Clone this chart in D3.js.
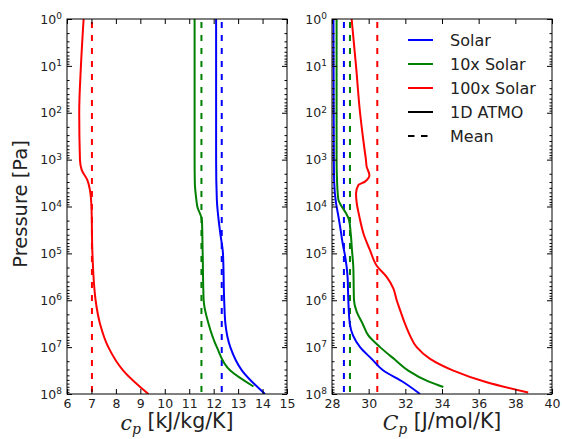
<!DOCTYPE html>
<html>
<head>
<meta charset="utf-8">
<script src="https://cdn.jsdelivr.net/npm/d3@7"></script>
<style>
  body { margin: 0; background: #fff; }
  svg { font-family: "DejaVu Sans", sans-serif; }
</style>
</head>
<body>
<div id="chart"></div>
<script>
// pressure exponents (log10 Pa) and heat capacities
var pExp = [0, 1, 2, 3, 4, 5, 6, 7, 8];

// left panel: c_p [kJ/kg/K]
var cpSolarP  = [0, 1, 2, 3, 3.85, 4.57, 5, 6, 6.5, 7, 7.5, 8];
var cpSolar   = [12.1, 12.1, 12.1, 12.1, 12.13, 12.27, 12.38, 12.43, 12.48, 12.68, 13.16, 14.1];
var cp10xP    = [0, 1, 2, 3, 3.5, 3.85, 4.0, 4.29, 5, 6, 6.5, 7, 7.5, 7.84];
var cp10x     = [11.22, 11.22, 11.22, 11.22, 11.23, 11.29, 11.33, 11.52, 11.55, 11.59, 11.79, 12.13, 12.68, 13.63];
var cp100xP   = [0, 1, 2, 3, 3.22, 3.43, 3.65, 4, 5, 6, 6.5, 7, 7.5, 8];
var cp100x    = [6.68, 6.57, 6.5, 6.53, 6.6, 6.83, 6.94, 7.0, 7.04, 7.17, 7.35, 7.69, 8.3, 9.33];
var cpMean    = [12.33, 11.5, 7.02];

// right panel: C_p [J/mol/K]
var CpSolarP  = [0, 3, 3.5, 3.93, 4.21, 4.5, 4.78, 5.07, 5.5, 6, 6.5, 7, 7.25, 7.5, 7.75, 8];
var CpSolar   = [28.08, 28.1, 28.12, 28.22, 28.35, 28.47, 28.58, 28.72, 28.85, 28.89, 28.97, 29.53, 30.16, 30.8, 31.9, 32.8];
var Cp10xP    = [0, 3, 3.5, 3.86, 4.0, 4.14, 4.29, 4.57, 4.93, 5.28, 6, 6.25, 6.5, 6.75, 7, 7.27, 7.5, 7.73, 7.85];
var Cp10x     = [28.25, 28.25, 28.28, 28.35, 28.53, 28.76, 28.93, 29.02, 29.09, 29.16, 29.2, 29.35, 29.67, 29.98, 30.62, 31.44, 32.16, 33.25, 34.07];
var Cp100xP   = [0, 1, 2, 2.5, 2.8, 3, 3.15, 3.33, 3.47, 3.54, 3.72, 3.93, 4.21, 4.57, 4.93, 5.28, 5.5, 5.75, 6, 6.25, 6.5, 6.75, 7, 7.25, 7.5, 7.75, 7.97];
var Cp100x    = [29.07, 29.31, 29.53, 29.68, 29.78, 29.85, 29.89, 30.04, 29.8, 29.44, 29.31, 29.35, 29.49, 29.71, 30.07, 30.47, 30.98, 31.35, 31.53, 31.75, 31.98, 32.25, 32.62, 33.35, 34.62, 36.44, 38.7];
var CpMean    = [28.65, 28.98, 30.47];

var seriesNames = ["Solar", "10x Solar", "100x Solar"];
var seriesColors = ["#0000ff", "#008000", "#ff0000"];
var legendNames = ["Solar", "10x Solar", "100x Solar", "1D ATMO", "Mean"];

var leftTicks = [6, 7, 8, 9, 10, 11, 12, 13, 14, 15];
var rightTicks = [28, 30, 32, 34, 36, 38, 40];

var W = 562, H = 439;
var top_ = 19, bottom_ = 394;

var svg = d3.select("#chart").append("svg")
    .attr("width", W).attr("height", H);

function zip(ps, vs) {
    return ps.map(function (p, i) { return { p: Math.pow(10, p), v: vs[i] }; });
}

function panel(x0, x1, domain, ticks, curves, means, id) {
    var x = d3.scaleLinear().domain(domain).range([x0, x1]);
    var y = d3.scaleLog().domain([1, 1e8]).range([top_, bottom_]);

    var g = svg.append("g");

    g.append("clipPath").attr("id", id)
        .append("rect").attr("x", x0).attr("y", top_)
        .attr("width", x1 - x0).attr("height", bottom_ - top_);

    var plot = g.append("g").attr("clip-path", "url(#" + id + ")");

    // mean lines
    plot.selectAll(".mean").data(means).enter().append("line")
        .attr("x1", function (d) { return x(d); })
        .attr("x2", function (d) { return x(d); })
        .attr("y1", y(1)).attr("y2", y(1e8))
        .style("stroke", function (d, i) { return seriesColors[i]; })
        .style("stroke-width", 2)
        .style("stroke-dasharray", "6,7")
        .style("stroke-dashoffset", -3);

    var line = d3.line()
        .x(function (d) { return x(d.v); })
        .y(function (d) { return y(d.p); })
        .curve(d3.curveMonotoneY);

    plot.selectAll(".curve").data(curves).enter().append("path")
        .attr("d", function (d) { return line(d); })
        .style("fill", "none")
        .style("stroke", function (d, i) { return seriesColors[i]; })
        .style("stroke-width", 2);

    // minor log ticks
    var minor = [];
    for (var e = 0; e < 8; e++)
        for (var m = 2; m < 10; m++) minor.push(m * Math.pow(10, e));

    g.append("g").attr("transform", "translate(" + x0 + ",0)")
        .call(d3.axisLeft(y).tickValues(minor).tickSize(-2.5).tickFormat(""));
    g.append("g").attr("transform", "translate(" + x1 + ",0)")
        .call(d3.axisRight(y).tickValues(minor).tickSize(-2.5).tickFormat(""));
    g.append("g").attr("transform", "translate(" + x1 + ",0)")
        .call(d3.axisRight(y).tickValues(pExp.map(function (e) { return Math.pow(10, e); })).tickSize(-5).tickFormat(""));

    var yAxis = g.append("g").attr("transform", "translate(" + x0 + ",0)")
        .call(d3.axisLeft(y).tickValues(pExp.map(function (e) { return Math.pow(10, e); }))
            .tickSize(-5).tickPadding(5).tickFormat(""));
    yAxis.selectAll(".tick text").each(function (d) {
        var t = d3.select(this);
        t.append("tspan").text("10").style("font-size", "12.5px");
        t.append("tspan").text(Math.round(Math.log10(d)))
            .attr("dy", "-0.5em").style("font-size", "9px");
    }).attr("dy", "0.42em");

    g.append("g").attr("transform", "translate(0," + top_ + ")")
        .call(d3.axisTop(x).tickValues(ticks).tickSize(-5).tickFormat(""));
    g.append("g").attr("transform", "translate(0," + bottom_ + ")")
        .call(d3.axisBottom(x).tickValues(ticks).tickSize(-5).tickPadding(5))
        .selectAll("text").style("font-size", "12.5px");

    g.selectAll(".domain").remove();
    g.selectAll(".tick line").style("stroke", "#000");
    g.selectAll(".tick text").style("fill", "#222").style("font-family", "DejaVu Sans");

    g.append("rect").attr("x", x0).attr("y", top_)
        .attr("width", x1 - x0).attr("height", bottom_ - top_)
        .style("fill", "none").style("stroke", "#000").style("stroke-width", 1);

    return x;
}

panel(67, 287, [6, 15], leftTicks,
    [zip(cpSolarP, cpSolar), zip(cp10xP, cp10x), zip(cp100xP, cp100x)], cpMean, "clipL");
panel(332, 552, [28, 40], rightTicks,
    [zip(CpSolarP, CpSolar), zip(Cp10xP, Cp10x), zip(Cp100xP, Cp100x)], CpMean, "clipR");

// axis labels
svg.append("text")
    .attr("transform", "translate(27,204) rotate(-90)")
    .attr("text-anchor", "middle")
    .style("font-size", "19.5px").style("fill", "#222")
    .text("Pressure [Pa]");

function xLabel(cx, sym, unit) {
    var t = svg.append("text").attr("x", cx).attr("y", 430)
        .attr("text-anchor", "middle")
        .style("font-size", "20.5px").style("fill", "#222");
    t.append("tspan").text(sym)
        .style("font-family", "DejaVu Serif").style("font-style", "italic");
    t.append("tspan").text("p").attr("dy", "0.25em")
        .style("font-family", "DejaVu Serif").style("font-style", "italic").style("font-size", "14px");
    t.append("tspan").text(" " + unit).attr("dy", "-0.25em");
}
xLabel(177, "c", "[kJ/kg/K]");
xLabel(442, "C", "[J/mol/K]");

// legend
var legend = svg.selectAll(".legend").data(legendNames).enter().append("g")
    .attr("class", "legend")
    .attr("transform", function (d, i) { return "translate(408," + (40 + i * 24) + ")"; });

legend.append("line")
    .attr("x1", 0).attr("x2", 25).attr("y1", 0).attr("y2", 0)
    .style("stroke", function (d, i) { return i < 3 ? seriesColors[i] : "#000"; })
    .style("stroke-width", 2)
    .style("stroke-dasharray", function (d, i) { return i == 4 ? "6.5,6.5" : null; });

legend.append("text")
    .attr("x", 42).attr("y", 0).attr("dy", "0.36em")
    .style("font-size", "16px").style("fill", "#222")
    .text(function (d) { return d; });
</script>
</body>
</html>
